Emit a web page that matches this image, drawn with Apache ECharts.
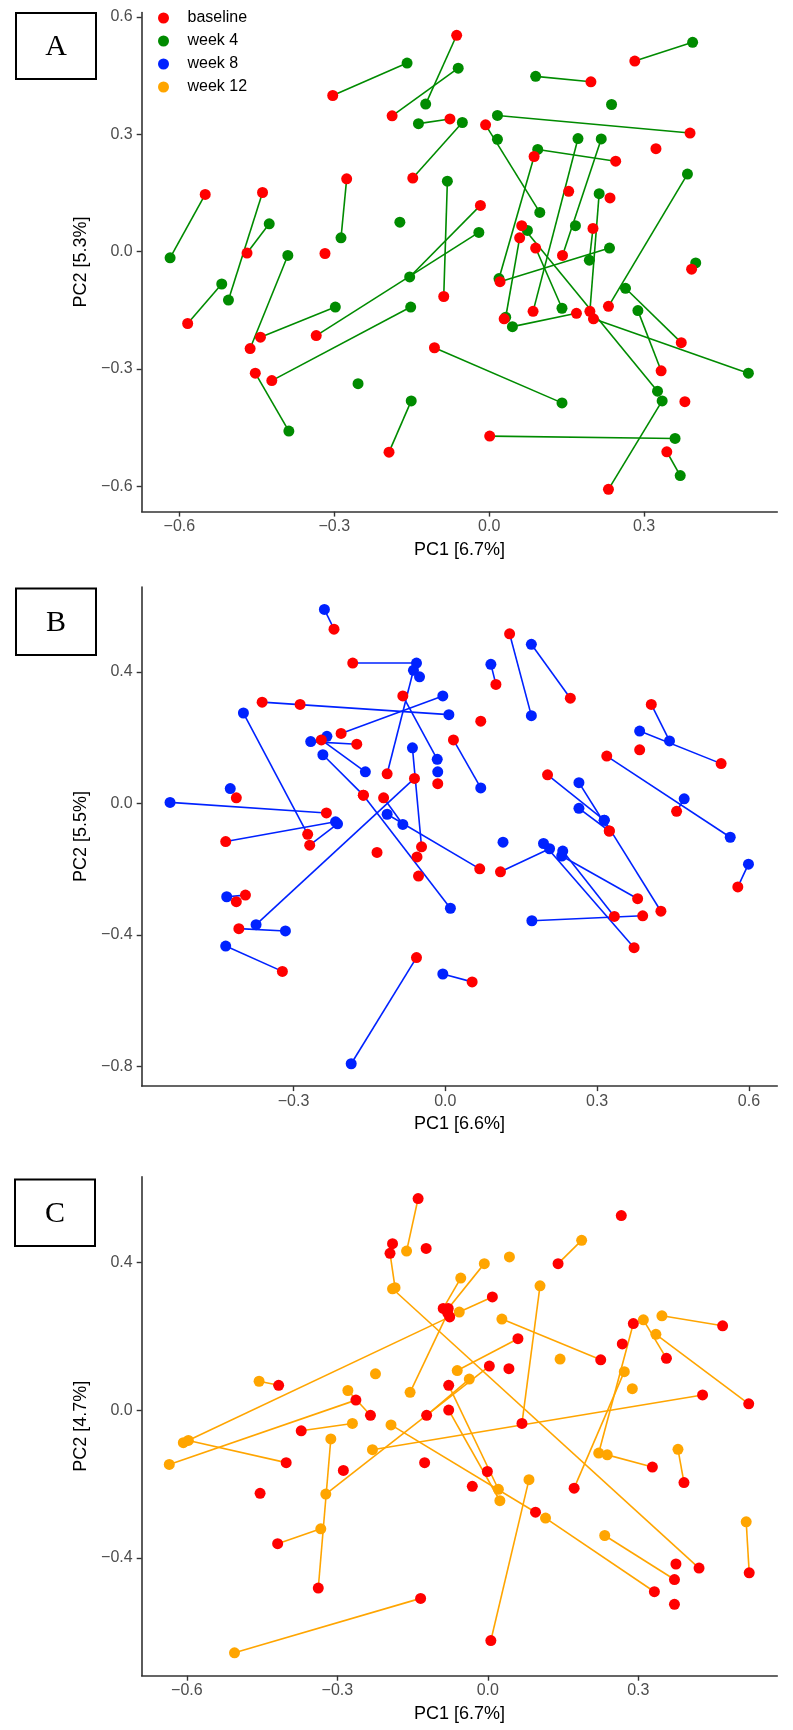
<!DOCTYPE html>
<html><head><meta charset="utf-8">
<script src="https://cdn.jsdelivr.net/npm/echarts@6/dist/echarts.min.js"></script>
<style>html,body{margin:0;padding:0;background:#fff}#c{width:793px;height:1730px}</style>
</head><body><div id="c"></div>
<script>
// ---------- DATA (PC1, PC2); entries aligned by subject, null = no partner ----------
const A_baseline = [
[-0.303,0.399],[-0.188,0.347],[-0.063,0.553],[-0.076,0.339],[-0.148,0.188],[-0.276,0.186],[-0.088,-0.115],[-0.550,0.146],[-0.439,0.151],[-0.469,-0.004],
[-0.463,-0.248],[-0.318,-0.005],[-0.584,-0.184],[-0.443,-0.219],[-0.335,-0.215],[-0.421,-0.330],[-0.453,-0.311],[-0.194,-0.513],[-0.106,-0.246],[0.282,0.487],
[0.197,0.434],[0.389,0.303],[-0.007,0.324],[0.323,0.263],[0.245,0.231],[0.087,0.243],[0.021,-0.077],[0.085,-0.153],[0.142,-0.010],[0.154,0.154],
[0.195,-0.153],[0.202,-0.172],[0.234,0.137],[0.231,-0.140],[-0.017,0.118],[0.063,0.066],[0.059,0.035],[0.029,-0.172],[0.169,-0.158],[0.090,0.009],
[0.201,0.059],[0.392,-0.045],[0.372,-0.233],[0.333,-0.305],[0.231,-0.608],[0.379,-0.384],[0.001,-0.472],[0.344,-0.512],
null,null,null,null,null,null];
const A_week4 = [
[-0.159,0.482],[-0.060,0.469],[-0.123,0.377],[-0.137,0.327],[-0.052,0.330],[-0.287,0.035],[-0.081,0.180],[-0.618,-0.016],[-0.505,-0.124],[-0.426,0.071],
[-0.390,-0.010],null,[-0.518,-0.083],[-0.298,-0.142],[-0.020,0.049],[-0.152,-0.142],[-0.388,-0.459],[-0.151,-0.382],[0.141,-0.387],[0.394,0.535],
[0.090,0.448],[0.016,0.348],[0.098,0.100],null,[0.094,0.261],[0.019,-0.069],[0.233,0.009],[0.172,0.289],[0.217,0.288],null,
[0.213,0.148],[0.502,-0.311],null,[0.384,0.198],[-0.154,-0.065],[0.326,-0.357],[0.032,-0.168],null,[0.045,-0.192],[0.141,-0.145],
[0.194,-0.022],[0.400,-0.029],[0.264,-0.094],[0.288,-0.151],[0.335,-0.382],null,[0.360,-0.478],[0.370,-0.573],
[-0.173,0.075],[-0.254,-0.338],[0.237,0.376],[0.016,0.287],[0.167,0.066],[0.074,0.054]];

const B_baseline = [
[-0.220,0.530],[-0.183,0.427],[-0.115,0.090],[-0.084,0.327],[-0.206,0.213],[-0.362,0.308],[-0.287,0.301],[-0.272,-0.094],[-0.175,0.180],[-0.245,0.193],
null,[-0.162,0.025],[-0.162,0.025],[0.068,-0.199],[-0.122,0.017],[-0.047,-0.132],[-0.056,-0.163],[-0.053,-0.221],[-0.061,0.076],[-0.015,0.060],
null,[0.016,0.193],null,[-0.235,-0.029],[-0.413,0.017],null,[-0.434,-0.116],[-0.268,-0.127],[-0.135,-0.149],[-0.395,-0.279],
[-0.413,-0.299],[-0.408,-0.381],[-0.322,-0.511],[-0.057,-0.469],[0.053,-0.543],[0.127,0.516],[0.247,0.320],[0.100,0.362],[0.070,0.250],[0.407,0.301],
[0.545,0.121],[0.384,0.163],[0.319,0.144],[0.457,-0.024],[0.202,0.087],[0.324,-0.084],[0.324,-0.084],[0.426,-0.328],null,[0.109,-0.208],
[0.380,-0.290],[0.334,-0.344],[0.373,-0.439],[0.390,-0.342],[0.578,-0.254]];
const B_week8 = [
[-0.239,0.590],[-0.057,0.427],[-0.063,0.405],[-0.016,0.134],[-0.005,0.327],[0.007,0.270],null,[-0.399,0.275],[-0.266,0.188],[-0.158,0.096],
[-0.234,0.204],[-0.242,0.148],[0.010,-0.319],[-0.115,-0.033],[-0.084,-0.064],[-0.065,0.169],null,null,[-0.374,-0.369],null,
[-0.015,0.096],[0.070,0.047],[-0.051,0.385],[-0.544,0.003],null,[-0.425,0.045],[-0.217,-0.056],[-0.213,-0.062],null,[-0.432,-0.284],
null,[-0.316,-0.388],[-0.434,-0.434],[-0.186,-0.792],[-0.005,-0.519],[0.170,0.267],[0.170,0.484],[0.090,0.423],null,[0.443,0.190],
[0.384,0.220],null,[0.563,-0.103],[0.472,0.014],[0.314,-0.051],[0.264,0.063],[0.264,-0.015],[0.314,-0.051],[0.114,-0.118],[0.206,-0.138],
[0.230,-0.160],[0.232,-0.145],[0.194,-0.122],[0.171,-0.357],[0.599,-0.185]];

const C_baseline = [
[-0.139,0.572],[-0.190,0.450],[-0.195,0.424],[-0.123,0.437],[0.421,-0.427],[-0.089,0.275],[-0.079,0.275],[-0.076,0.252],[-0.080,0.262],[-0.263,0.027],
[-0.402,-0.142],[-0.417,0.067],[-0.234,-0.014],[-0.372,-0.056],null,[0.003,0.119],[-0.419,-0.361],[-0.338,-0.481],[-0.288,-0.163],[-0.454,-0.225],
[0.428,0.041],[0.095,-0.276],[-0.122,-0.014],[-0.126,-0.142],[-0.134,-0.509],[-0.078,0.067],[-0.078,0.000],[0.060,0.193],[0.009,0.306],null,
[0.140,0.396],[0.068,-0.036],[0.266,0.526],[0.225,0.136],[0.268,0.179],null,[0.290,0.234],[0.356,0.140],[0.468,0.228],[0.520,0.017],
[0.172,-0.211],null,[0.042,0.112],[0.328,-0.154],[0.391,-0.196],[0.006,-0.623],[-0.031,-0.206],[0.332,-0.491],[0.372,-0.458],[0.375,-0.416],
[0.372,-0.525],[0.521,-0.440],[-0.001,-0.166]];
const C_week12 = [
[-0.162,0.430],null,[-0.185,0.331],null,[-0.190,0.328],[-0.054,0.357],[-0.007,0.396],[-0.607,-0.088],[-0.155,0.048],[-0.635,-0.147],
[-0.597,-0.082],[-0.456,0.078],[-0.279,0.053],[-0.270,-0.036],[-0.224,0.098],[-0.323,-0.227],[-0.333,-0.321],[-0.313,-0.078],null,null,
[-0.230,-0.107],[-0.193,-0.040],[-0.037,0.084],null,[-0.505,-0.656],[0.021,-0.214],[0.024,-0.245],[-0.061,0.107],[-0.057,0.265],[0.043,0.414],
[0.187,0.459],[0.104,0.336],null,[0.028,0.246],null,[0.144,0.138],[0.221,-0.116],[0.310,0.244],[0.347,0.255],[0.335,0.205],
[0.272,0.104],[0.288,0.058],null,[0.238,-0.121],[0.379,-0.106],[0.082,-0.188],null,[0.115,-0.292],[0.233,-0.339],null,
null,[0.515,-0.302],null];

const A_xTicks = [-0.6,-0.3,0.0,0.3], A_yTicks = [-0.6,-0.3,0.0,0.3,0.6];
const B_xTicks = [-0.3,0.0,0.3,0.6],  B_yTicks = [-0.8,-0.4,0.0,0.4];
const C_xTicks = [-0.6,-0.3,0.0,0.3], C_yTicks = [-0.4,0.0,0.4];
const legendNames = ['baseline','week 4','week 8','week 12'];

// ---------- CHART ----------
const F = '"Liberation Sans", Arial, Helvetica, sans-serif';
const RED = '#FF0000';
const fmt = v => (Math.abs(v) < 1e-9 ? 0 : v).toFixed(1).replace('-', '\u2212');

const panels = [
  {label:'A', base:A_baseline, fu:A_week4, fuName:'week 4', color:'#008B00', xName:'PC1 [6.7%]', yName:'PC2 [5.3%]',
   xt:A_xTicks, yt:A_yTicks, xr:[-0.673,0.558], yr:[-0.665,0.611], top:12.6, box:[16,13,80,66]},
  {label:'B', base:B_baseline, fu:B_week8, fuName:'week 8', color:'#0022FF', xName:'PC1 [6.6%]', yName:'PC2 [5.5%]',
   xt:B_xTicks, yt:B_yTicks, xr:[-0.600,0.656], yr:[-0.860,0.658], top:587.1, box:[16,588.5,80,66.5]},
  {label:'C', base:C_baseline, fu:C_week12, fuName:'week 12', color:'#FFA500', xName:'PC1 [6.7%]', yName:'PC2 [4.7%]',
   xt:C_xTicks, yt:C_yTicks, xr:[-0.690,0.577], yr:[-0.718,0.631], top:1176.7, box:[15,1179.5,80,66.5]}
];

const grid = [], xAxis = [], yAxis = [], series = [], graphic = [];
panels.forEach((p, i) => {
  grid.push({left:141.7, right:15.7, top:p.top, height:499, containLabel:false});
  const axisCommon = {
    type:'value', gridIndex:i, splitLine:{show:false},
    axisLine:{show:true, onZero:false, lineStyle:{color:'#333', width:1.6}},
    nameLocation:'middle', nameTextStyle:{fontSize:18, color:'#000', fontFamily:F}
  };
  xAxis.push(Object.assign({}, axisCommon, {
    min:p.xr[0], max:p.xr[1], name:p.xName, nameGap:29,
    axisTick:{show:true, length:5, customValues:p.xt, lineStyle:{color:'#333', width:1.4}},
    axisLabel:{customValues:p.xt, formatter:fmt, fontSize:16, color:'#4d4d4d', margin:7, fontFamily:F}
  }));
  yAxis.push(Object.assign({}, axisCommon, {
    min:p.yr[0], max:p.yr[1], name:p.yName, nameGap:45,
    axisTick:{show:true, length:5, customValues:p.yt, lineStyle:{color:'#333', width:1.4}},
    axisLabel:{customValues:p.yt, formatter:fmt, fontSize:16, color:'#4d4d4d', margin:9, fontFamily:F}
  }));
  const segs = [];
  p.base.forEach((b, k) => { const f = p.fu[k]; if (b && f) segs.push([b[0], b[1], f[0], f[1]]); });
  const col = p.color;
  series.push({
    type:'custom', xAxisIndex:i, yAxisIndex:i, silent:true, z:1,
    encode:{x:[0,2], y:[1,3]}, data:segs,
    renderItem:(params, api) => {
      const a = api.coord([api.value(0), api.value(1)]);
      const c = api.coord([api.value(2), api.value(3)]);
      return {type:'line', shape:{x1:a[0], y1:a[1], x2:c[0], y2:c[1]}, style:{stroke:col, lineWidth:1.6}};
    }
  });
  series.push({type:'scatter', name:p.fuName, xAxisIndex:i, yAxisIndex:i, z:2, symbol:'circle', symbolSize:11,
    itemStyle:{color:col, opacity:1}, data:p.fu.filter(d => d)});
  series.push({type:'scatter', name:'baseline', xAxisIndex:i, yAxisIndex:i, z:3, symbol:'circle', symbolSize:11,
    itemStyle:{color:RED, opacity:1}, data:p.base.filter(d => d)});
  graphic.push({type:'rect', shape:{x:p.box[0], y:p.box[1], width:p.box[2], height:p.box[3]},
    style:{fill:'#fff', stroke:'#000', lineWidth:2}, z:10});
  graphic.push({type:'text', x:p.box[0] + p.box[2]/2, y:p.box[1] + p.box[3]/2 + 1, z:11,
    style:{text:p.label, fill:'#000', font:'30px "Liberation Serif", "DejaVu Serif", serif',
      align:'center', verticalAlign:'middle', textAlign:'center', textVerticalAlign:'middle'}});
});

const chart = echarts.init(document.getElementById('c'), null, {renderer:'canvas'});
chart.setOption({
  animation:false,
  backgroundColor:'#fff',
  grid, xAxis, yAxis, series, graphic,
  legend:{
    orient:'vertical', left:158, top:10, padding:0, itemWidth:16, itemHeight:11, itemGap:7,
    icon:'circle', selectedMode:false, data:legendNames,
    textStyle:{fontSize:16, fontFamily:F, color:'#000', lineHeight:16, padding:[0,0,0,11]}
  }
});
</script>
</body></html>
